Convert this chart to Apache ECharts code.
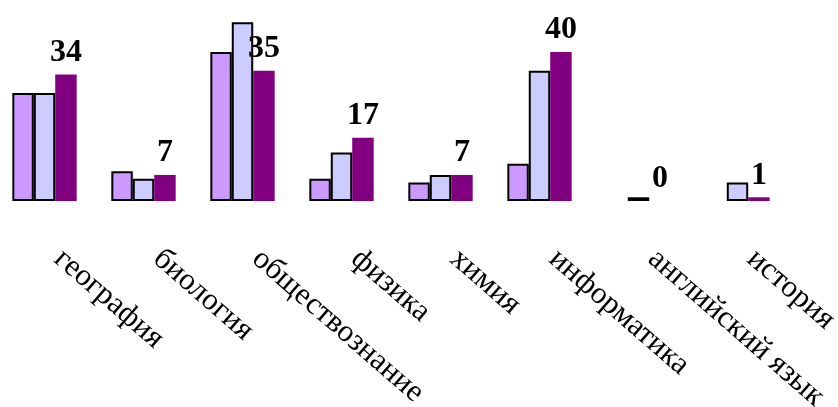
<!DOCTYPE html>
<html>
<head>
<meta charset="utf-8">
<script src="https://cdn.jsdelivr.net/npm/echarts@6/dist/echarts.min.js"></script>
<style>
html,body{margin:0;padding:0;background:#fff;}
#chart{width:838px;height:407px;}
</style>
</head>
<body>
<div id="chart"></div>
<script>
var categories = ['география','биология','обществознание','физика','химия','информатика','английский язык','история'];
var series1 = [29, 8, 40, 6, 5, 10, 0, 0];
var series2 = [29, 6, 48, 13, 7, 35, 1, 5];
var series3 = [34, 7, 35, 17, 7, 40, 0, 1];

function hideZero(arr) { return arr.map(function (v) { return v === 0 ? null : v; }); }

var chart = echarts.init(document.getElementById('chart'), null, {renderer:'canvas'});
var serif = '"Liberation Serif", "Times New Roman", serif';
chart.setOption({
  animation: false,
  backgroundColor: '#ffffff',
  grid: {left: -5, right: 51, top: 0, bottom: 206, containLabel: false, outerBoundsMode: 'none'},
  xAxis: {
    type: 'category',
    data: categories,
    axisLine: {show: false},
    axisTick: {show: false},
    axisLabel: {
      interval: 0,
      rotate: -41,
      margin: 42,
      padding: [0, 0, 0, 18],
      fontFamily: serif,
      fontSize: 31,
      color: '#000',
      hideOverlap: false
    }
  },
  yAxis: {
    type: 'value',
    min: 0,
    max: 54,
    show: false,
    splitLine: {show: false}
  },
  series: [
    {
      type: 'bar',
      data: hideZero(series1),
      barGap: '0%',
      barCategoryGap: '35%',
      itemStyle: {color: '#cc99ff', borderColor: '#000', borderWidth: 2}
    },
    {
      type: 'bar',
      data: hideZero(series2),
      itemStyle: {color: '#ccccff', borderColor: '#000', borderWidth: 2}
    },
    {
      type: 'bar',
      data: series3,
      itemStyle: {color: '#800080'},
      label: {
        show: true,
        position: 'top',
        distance: 6,
        fontFamily: serif,
        fontWeight: 'bold',
        fontSize: 32,
        color: '#000'
      }
    }
  ]
});
</script>
</body>
</html>
